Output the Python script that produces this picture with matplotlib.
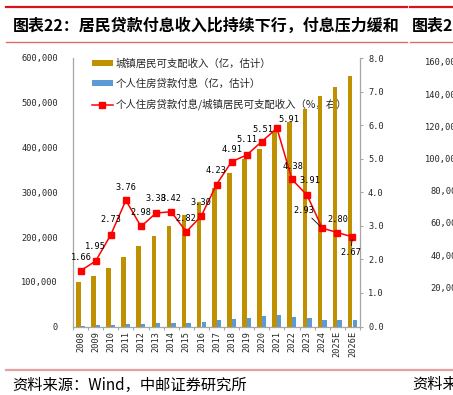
import matplotlib
matplotlib.use('Agg')
import matplotlib.pyplot as plt
from matplotlib.lines import Line2D

plt.rcParams['font.family'] = ['Noto Sans CJK SC', 'DejaVu Sans']

years = ['2008', '2009', '2010', '2011', '2012', '2013', '2014', '2015', '2016', '2017',
         '2018', '2019', '2020', '2021', '2022', '2023', '2024', '2025E', '2026E']
# 城镇居民可支配收入（亿）
income = [99000, 113000, 131000, 156000, 180000, 203000, 225000, 249000, 278000, 309000,
          342000, 375000, 397000, 435000, 456000, 485000, 514000, 535000, 560000]
# 个人住房贷款付息（亿）
interest = [1700, 2300, 3700, 6000, 5500, 7000, 7800, 7200, 9400, 13500,
            17200, 20000, 22500, 26500, 20500, 19500, 15500, 15500, 15500]
# 付息/收入 (%)
ratio = [1.66, 1.95, 2.73, 3.76, 2.98, 3.38, 3.42, 2.82, 3.30, 4.23,
         4.91, 5.11, 5.51, 5.91, 4.38, 3.91, 2.93, 2.80, 2.67]
left_ticks = [0, 100000, 200000, 300000, 400000, 500000, 600000]
right_ticks = [0, 1, 2, 3, 4, 5, 6, 7, 8]
side_ticks = [0, 20000, 40000, 60000, 80000, 100000, 120000, 140000, 160000]

# label offsets in pixels (dx, dy)
lab_dx = [1, 0, 0, 0, 0, 0, 0, 0, 0, 0, 0, 0, 1, 12, 1, 3, -18, 1, -2]
lab_dy = [13.6, 14.3, 15.3, 13, 14.3, 14.3, 13, 13, 13, 14.4, 12.6, 15, 12.3, 8.4, 13.4, 14.5, 17.4, 13.4, -16]

W, H = 453, 395
GOLD = '#BF9000'
BLUE = '#5B9BD5'
RED = '#FF0000'
GRAY = '#A6A6A6'
TXT = '#262626'
MONO = 'DejaVu Sans Mono'


def fx(x):
    return x / W


def fy(y):
    return 1 - y / H


fig = plt.figure(figsize=(W / 100, H / 100), dpi=100)

ax = fig.add_axes([fx(73), fy(326.5), (360 - 73) / W, (326.5 - 58) / H])
ax2 = ax.twinx()

xs = list(range(len(years)))
gold = ax.bar([i - 0.15 for i in xs], income, width=0.3, color=GOLD, zorder=2)
blue = ax.bar([i + 0.15 for i in xs], interest, width=0.28, color=BLUE, zorder=2)

ax.set_xlim(-0.5, len(years) - 0.5)
ax.set_ylim(0, 600000)
ax.set_yticks(left_ticks, labels=[f'{v:,}' for v in left_ticks], fontfamily=MONO, fontsize=6.2, color=TXT)
ax.set_xticks(xs, labels=years, rotation=90, fontfamily=MONO, fontsize=6.2, color=TXT)
ax.set_xticks([i - 0.5 for i in range(len(years) + 1)], minor=True)
ax.tick_params(axis='y', length=0, pad=10.8)
ax.tick_params(axis='x', which='major', length=0, pad=3.2)
ax.tick_params(axis='x', which='minor', length=2.2, color=GRAY, width=0.8)
for s in ['top', 'right']:
    ax.spines[s].set_visible(False)
for s in ['left', 'bottom']:
    ax.spines[s].set_color(GRAY)
    ax.spines[s].set_linewidth(0.9)

ax2.set_ylim(0, 8)
ax2.set_yticks(right_ticks, labels=[f'{v:.1f}' for v in right_ticks], fontfamily=MONO, fontsize=6.2, color=TXT)
ax2.tick_params(axis='y', length=2.2, pad=3.6, color=GRAY, width=0.8)
for s in ['top', 'left', 'bottom']:
    ax2.spines[s].set_visible(False)
ax2.spines['right'].set_color(GRAY)
ax2.spines['right'].set_linewidth(0.9)

line, = ax2.plot(xs, ratio, color=RED, lw=1.1, marker='s', ms=4.5, mfc=RED, mec=RED, zorder=3)

for i, v in enumerate(ratio):
    kw = {}
    if i in (16, 18):
        kw['arrowprops'] = dict(arrowstyle='-', color='black', lw=0.6, shrinkA=0, shrinkB=2)
    ax2.annotate(f'{v:.2f}', (xs[i], v), xytext=(lab_dx[i], lab_dy[i]), textcoords='offset pixels',
                 ha='center', va='center', fontfamily=MONO, fontsize=6.2, color='black', **kw)

leg = ax.legend([gold, blue, line],
                ['城镇居民可支配收入（亿，估计）', '个人住房贷款付息（亿，估计）',
                 '个人住房贷款付息/城镇居民可支配收入（%，右）'],
                loc='upper left', bbox_to_anchor=(fx(92), fy(58.5)), bbox_transform=fig.transFigure,
                frameon=False, fontsize=7.5, handlelength=2.0, handleheight=0.42,
                handletextpad=0.25, labelspacing=0.92, borderpad=0, borderaxespad=0)
for t in leg.get_texts():
    t.set_color(TXT)
leg.set_zorder(1)

# neighbouring chart, cut off by the page edge
ax3 = fig.add_axes([fx(466), fy(319.5), 0.3, (319.5 - 62) / H])
ax3.set_ylim(0, 160000)
ax3.set_yticks(side_ticks, labels=[f'{v:,}' for v in side_ticks], fontfamily=MONO, fontsize=6.3, color=TXT)
ax3.tick_params(axis='y', length=0, pad=2.9)
ax3.set_xticks([])
ax3.patch.set_visible(False)
for s in ax3.spines.values():
    s.set_visible(False)

# page decoration
fig.add_artist(Line2D([fx(6), fx(407)], [fy(7), fy(7)], color='#D7141E', lw=1.6))
fig.add_artist(Line2D([fx(410), fx(453)], [fy(7), fy(7)], color='#D7141E', lw=1.6))
fig.add_artist(Line2D([fx(6), fx(407)], [fy(41.7), fy(41.7)], color='#E36C6C', lw=1.0))
fig.add_artist(Line2D([fx(410), fx(453)], [fy(41.7), fy(41.7)], color='#E36C6C', lw=1.0))
fig.add_artist(Line2D([fx(6), fx(453)], [fy(370), fy(370)], color='#E6A0A0', lw=1.6))

fig.text(fx(12.7), fy(26), '图表22：居民贷款付息收入比持续下行，付息压力缓和',
         fontsize=11.5, fontweight='bold', ha='left', va='center', color='black')
fig.text(fx(412), fy(26), '图表23：', fontsize=11.5, fontweight='bold', ha='left', va='center', color='black')
fig.text(fx(12.7), fy(385), '资料来源：Wind，中邮证券研究所', fontsize=11, ha='left', va='center', color='black')
fig.text(fx(412), fy(385), '资料来源：Wind', fontsize=11, ha='left', va='center', color='black')

fig.savefig('out.png', dpi=100)
